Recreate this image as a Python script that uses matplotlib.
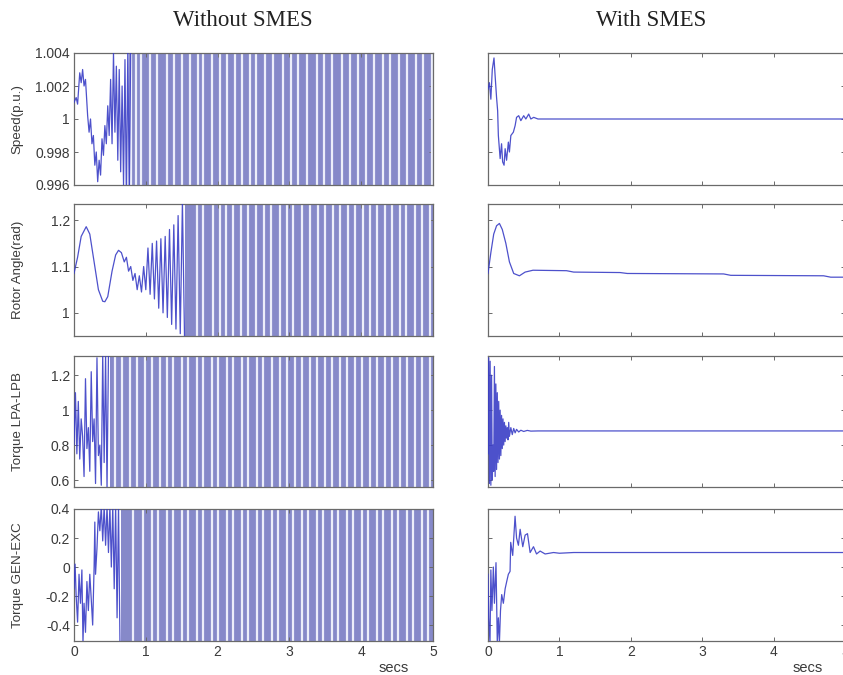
import matplotlib
matplotlib.use("Agg")
import matplotlib.pyplot as plt

# ---------------- data ----------------
time_end = 5.0

# Row 1: Speed (p.u.)
speed_wo_t = [0.00, 0.03, 0.05, 0.08, 0.10, 0.12, 0.14, 0.16, 0.19, 0.21, 0.23, 0.25, 0.27, 0.29,
              0.31, 0.33, 0.35, 0.37, 0.39, 0.41, 0.43, 0.45, 0.47, 0.49, 0.51, 0.53, 0.55, 0.57,
              0.59, 0.61, 0.63, 0.65, 0.67, 0.69, 0.71, 0.73, 0.75, 0.77, 0.79]
speed_wo_y = [1.0010, 1.0013, 1.0009, 1.0028, 1.0022, 1.0030, 1.0020, 1.0024, 1.0002, 0.9992,
              1.0000, 0.9985, 0.9990, 0.9972, 0.9980, 0.9962, 0.9975, 0.9966, 0.9988, 0.9978,
              0.9996, 0.9985, 1.0008, 0.9990, 1.0024, 0.9985, 1.0040, 0.9992, 1.0032, 0.9975,
              1.0030, 0.9968, 1.0020, 0.9960, 1.0036, 0.9950, 1.0045, 0.9950, 1.0045]
speed_wo_sat = 0.76
speed_wo_gaps = [0.80, 0.87, 0.94, 1.06, 1.16, 1.29, 1.39, 1.50, 1.62, 1.73, 1.80, 1.92, 2.03,
                 2.13, 2.24, 2.34, 2.45, 2.54, 2.66, 2.77, 2.91, 3.02, 3.12, 3.24, 3.38, 3.48,
                 3.60, 3.73, 3.84, 3.95, 4.07, 4.18, 4.31, 4.40, 4.53, 4.64, 4.77, 4.86, 4.99]
speed_w_t = [0.00, 0.02, 0.04, 0.06, 0.084, 0.10, 0.12, 0.135, 0.145, 0.17, 0.19, 0.205, 0.225,
             0.24, 0.26, 0.285, 0.30, 0.32, 0.355, 0.38, 0.40, 0.43, 0.46, 0.50, 0.53, 0.57,
             0.60, 0.64, 0.70, 0.82, 5.00]
speed_w_y = [1.0018, 1.0022, 1.0012, 1.0030, 1.0037, 1.0026, 1.0013, 1.0005, 0.9990, 0.9976,
             0.9985, 0.9974, 0.9972, 0.9982, 0.9975, 0.9986, 0.9980, 0.9990, 0.9992, 0.9996,
             1.0001, 1.0002, 0.9999, 1.0002, 1.0000, 1.0003, 1.0000, 1.0001, 1.0000, 1.0000,
             1.0000]

# Row 2: Rotor angle (rad)
angle_wo_t = [0.00, 0.05, 0.10, 0.17, 0.22, 0.28, 0.34, 0.40, 0.43, 0.47, 0.53, 0.58, 0.62, 0.66,
              0.70, 0.73, 0.76, 0.79, 0.82, 0.85, 0.88, 0.91, 0.94, 0.97, 1.00, 1.03, 1.06, 1.09,
              1.12, 1.15, 1.18, 1.21, 1.24, 1.27, 1.30, 1.33, 1.36, 1.39, 1.42, 1.45, 1.48, 1.51,
              1.54]
angle_wo_y = [1.085, 1.120, 1.165, 1.186, 1.170, 1.110, 1.050, 1.025, 1.024, 1.035, 1.090, 1.125,
              1.135, 1.130, 1.110, 1.120, 1.090, 1.100, 1.070, 1.085, 1.050, 1.080, 1.045, 1.100,
              1.050, 1.140, 1.040, 1.150, 1.030, 1.155, 1.010, 1.160, 1.000, 1.165, 0.990, 1.180,
              0.975, 1.190, 0.965, 1.210, 0.955, 1.240, 0.940]
angle_wo_sat = 1.55
angle_wo_gaps = [1.71, 1.80, 1.94, 2.03, 2.12, 2.22, 2.33, 2.43, 2.54, 2.64, 2.75, 2.87, 2.96,
                 3.05, 3.17, 3.29, 3.40, 3.50, 3.61, 3.70, 3.82, 3.91, 4.03, 4.12, 4.22, 4.33,
                 4.43, 4.54, 4.63, 4.75, 4.84, 4.96]
angle_w_t = [0.00, 0.04, 0.08, 0.12, 0.16, 0.20, 0.25, 0.30, 0.36, 0.44, 0.52, 0.63, 1.10, 1.20,
             1.85, 1.95, 3.30, 3.40, 4.70, 4.80, 5.00]
angle_w_y = [1.085, 1.130, 1.170, 1.188, 1.193, 1.180, 1.150, 1.110, 1.085, 1.080, 1.088, 1.092,
             1.091, 1.088, 1.087, 1.085, 1.084, 1.081, 1.080, 1.077, 1.077]

# Row 3: Torque LPA-LPB
tlp_wo_t = [0.00, 0.02, 0.04, 0.06, 0.08, 0.10, 0.12, 0.14, 0.16, 0.18, 0.20, 0.22, 0.24, 0.26,
            0.28, 0.30, 0.32, 0.34, 0.36, 0.38, 0.40, 0.42, 0.44, 0.46, 0.48]
tlp_wo_y = [0.80, 1.10, 0.75, 1.05, 0.72, 0.95, 0.85, 0.62, 1.18, 0.78, 0.90, 0.65, 1.22, 0.82,
            0.95, 0.58, 1.30, 0.74, 0.80, 0.57, 1.32, 0.70, 1.32, 0.55, 1.32]
tlp_wo_sat = 0.50
tlp_wo_gaps = [0.571, 0.664, 0.780, 0.873, 0.989, 1.082, 1.198, 1.291, 1.383, 1.500, 1.592,
               1.708, 1.801, 1.917, 2.010, 2.126, 2.219, 2.335, 2.428, 2.544, 2.637, 2.753,
               2.869, 2.962, 3.078, 3.171, 3.287, 3.380, 3.496, 3.589, 3.705, 3.798, 3.914,
               4.006, 4.123, 4.215, 4.331, 4.424, 4.540, 4.633, 4.749, 4.842, 4.958]
tlp_w_t = [0.00, 0.01, 0.02, 0.03, 0.04, 0.05, 0.06, 0.07, 0.08, 0.09, 0.10, 0.11, 0.12, 0.13,
           0.14, 0.15, 0.16, 0.17, 0.18, 0.19, 0.20, 0.21, 0.22, 0.23, 0.24, 0.25, 0.26, 0.27,
           0.28, 0.29, 0.30, 0.32, 0.34, 0.36, 0.38, 0.40, 0.43, 0.46, 0.50, 0.55, 0.60, 0.70,
           5.00]
tlp_w_y = [0.75, 1.30, 0.58, 1.28, 0.57, 1.20, 0.60, 0.80, 0.65, 1.25, 0.62, 1.15, 0.66, 1.10,
           0.70, 1.05, 0.72, 1.00, 0.74, 0.97, 0.78, 0.95, 0.80, 0.93, 0.82, 0.91, 0.84, 0.90,
           0.83, 0.93, 0.85, 0.90, 0.86, 0.895, 0.87, 0.89, 0.875, 0.885, 0.878, 0.884, 0.880,
           0.881, 0.881]

# Row 4: Torque GEN-EXC
tge_wo_t = [0.00, 0.015, 0.03, 0.05, 0.07, 0.09, 0.11, 0.125, 0.14, 0.16, 0.18, 0.20, 0.22, 0.24,
            0.26, 0.28, 0.29, 0.30, 0.32, 0.34, 0.36, 0.38, 0.40, 0.42, 0.44, 0.46, 0.48, 0.50,
            0.52, 0.54, 0.56, 0.58, 0.60, 0.62, 0.64]
tge_wo_y = [-0.15, 0.02, -0.20, -0.38, -0.05, -0.25, -0.02, -0.52, -0.25, -0.45, -0.10, -0.30,
            -0.05, -0.22, -0.40, 0.00, 0.31, -0.05, 0.13, 0.38, 0.25, 0.42, 0.18, 0.42, 0.15, 0.42,
            0.10, 0.42, 0.00, 0.42, -0.15, 0.42, -0.35, 0.42, -0.52]
tge_wo_sat = 0.65
tge_wo_gaps = [0.826, 0.966, 1.082, 1.175, 1.291, 1.383, 1.500, 1.592, 1.708, 1.801, 1.917,
               2.010, 2.126, 2.219, 2.335, 2.428, 2.544, 2.637, 2.753, 2.846, 2.962, 3.055,
               3.171, 3.264, 3.380, 3.473, 3.589, 3.682, 3.798, 3.890, 4.006, 4.099, 4.215,
               4.308, 4.424, 4.517, 4.633, 4.726, 4.842, 4.935]
tge_w_t = [0.000, 0.010, 0.028, 0.040, 0.055, 0.075, 0.090, 0.112, 0.130, 0.145, 0.160, 0.175,
           0.192, 0.215, 0.240, 0.262, 0.285, 0.309, 0.318, 0.346, 0.379, 0.400, 0.426, 0.450,
           0.487, 0.520, 0.553, 0.590, 0.637, 0.680, 0.730, 0.800, 0.918, 1.000, 1.200, 5.000]
tge_w_y = [-0.05, -0.35, -0.52, -0.02, -0.30, 0.00, -0.25, 0.03, -0.52, -0.35, -0.52, -0.30,
           -0.19, -0.25, -0.15, -0.10, -0.05, -0.03, 0.17, 0.08, 0.35, 0.20, 0.15, 0.26, 0.14,
           0.22, 0.23, 0.10, 0.14, 0.09, 0.11, 0.09, 0.10, 0.095, 0.10, 0.10]

row_labels = ["Speed(p.u.)", "Rotor Angle(rad)", "Torque LPA-LPB", "Torque GEN-EXC"]
row_ylims = [(0.996, 1.004), (0.95, 1.235), (0.56, 1.31), (-0.51, 0.40)]
row_yticks = [[0.996, 0.998, 1.0, 1.002, 1.004], [1.0, 1.1, 1.2], [0.6, 0.8, 1.0, 1.2],
              [-0.4, -0.2, 0.0, 0.2, 0.4]]
row_yticklabels = [["0.996", "0.998", "1", "1.002", "1.004"], ["1", "1.1", "1.2"],
                   ["0.6", "0.8", "1", "1.2"], ["-0.4", "-0.2", "0", "0.2", "0.4"]]
xticks = [0, 1, 2, 3, 4, 5]
column_titles = ["Without SMES", "With SMES"]

without = [(speed_wo_t, speed_wo_y, speed_wo_sat, speed_wo_gaps),
           (angle_wo_t, angle_wo_y, angle_wo_sat, angle_wo_gaps),
           (tlp_wo_t, tlp_wo_y, tlp_wo_sat, tlp_wo_gaps),
           (tge_wo_t, tge_wo_y, tge_wo_sat, tge_wo_gaps)]
with_smes = [(speed_w_t, speed_w_y), (angle_w_t, angle_w_y), (tlp_w_t, tlp_w_y),
             (tge_w_t, tge_w_y)]

# ---------------- figure ----------------
W, H = 843, 675
fig = plt.figure(figsize=(W / 100, H / 100), dpi=100)
fig.patch.set_facecolor("white")

LINE = "#3a3ec6"
BAND = "#8689c9"
GAP = "#eceefa"
TXT = "#3a3a3a"
SPINE = "#6a6a6a"

rows_px = [(53, 185), (204, 336), (356, 487), (509, 641)]
cols_px = [(74, 433), (488, 845)]

def frac_rect(xp, yp):
    x0, x1 = xp
    y0, y1 = yp
    return [x0 / W, 1 - y1 / H, (x1 - x0) / W, (y1 - y0) / H]

def style(ax, r, c):
    ax.set_xlim(0, time_end)
    ax.set_ylim(*row_ylims[r])
    ax.set_xticks(xticks)
    ax.set_yticks(row_yticks[r])
    ax.tick_params(direction="in", length=3, width=0.7, top=True, right=True,
                   colors=SPINE, labelcolor=TXT, labelsize=10, pad=3)
    for s in ax.spines.values():
        s.set_color(SPINE)
        s.set_linewidth(0.9)
    if c == 0:
        ax.set_yticklabels(row_yticklabels[r], family="Liberation Sans")
        ax.set_ylabel(row_labels[r], family="Liberation Sans", fontsize=9.6, color=TXT)
        ax.yaxis.set_label_coords(-0.14, 0.5)
    else:
        ax.set_yticklabels([])
    if r == 3:
        ax.set_xticklabels([str(v) for v in xticks], family="Liberation Sans")
    else:
        ax.set_xticklabels([])

for r in range(4):
    # without SMES
    ax = fig.add_axes(frac_rect(cols_px[0], rows_px[r]))
    t, y, tsat, gaps = without[r]
    ax.axvspan(tsat, time_end, color=BAND, lw=0, zorder=1)
    ax.vlines(gaps, row_ylims[r][0], row_ylims[r][1], colors=GAP, lw=1.6, zorder=2)
    ax.plot(t, y, color=LINE, lw=0.9, zorder=3, alpha=0.9)
    style(ax, r, 0)
    # with SMES
    ax2 = fig.add_axes(frac_rect(cols_px[1], rows_px[r]))
    t2, y2 = with_smes[r]
    ax2.plot(t2, y2, color=LINE, lw=0.9, zorder=3, alpha=0.9)
    style(ax2, r, 1)

fig.text(243 / W, 1 - 20 / H, column_titles[0], ha="center", va="center",
         family="Liberation Serif", fontsize=16.5, color="#222222")
fig.text(651 / W, 1 - 20 / H, column_titles[1], ha="center", va="center",
         family="Liberation Serif", fontsize=16.5, color="#222222")
fig.text(394 / W, 1 - 668 / H, "secs", ha="center", va="center",
         family="Liberation Sans", fontsize=10.5, color=TXT)
fig.text(808 / W, 1 - 668 / H, "secs", ha="center", va="center",
         family="Liberation Sans", fontsize=10.5, color=TXT)

fig.savefig("out.png", dpi=100, facecolor="white")
